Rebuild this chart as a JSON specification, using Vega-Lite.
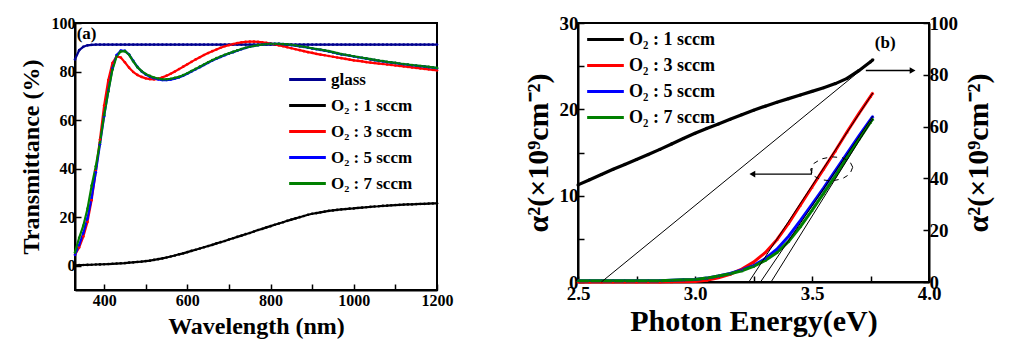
{
 "$schema": "https://vega.github.io/schema/vega-lite/v6.json",
 "background": "white",
 "padding": {"left": 18, "top": 13, "right": 5, "bottom": 5},
 "spacing": 68,
 "config": {
  "font": "Liberation Serif",
  "view": {"stroke": "black", "strokeWidth": 2},
  "axis": {"labelFont": "Liberation Serif", "labelFontWeight": "bold", "titleFont": "Liberation Serif", "titleFontWeight": "bold", "labelColor": "black", "titleColor": "black", "domainColor": "black", "domainWidth": 2, "tickColor": "black", "tickWidth": 1.5, "grid": false, "tickSize": -6, "labelPadding": 6, "labelOverlap": false, "labelFlush": false},
  "axisX": {"labelPadding": 8},
  "legend": {"title": null, "labelFont": "Liberation Serif", "labelFontWeight": "bold", "labelFontSize": 17, "labelColor": "black", "symbolType": "M-1.55,0H1.55", "symbolSize": 560, "symbolStrokeWidth": 3, "labelOffset": 10, "rowPadding": 4, "padding": 0}
 },
 "datasets": {
  "ta": [
   {"w":330,"glass":85.0,"o1":0.2,"o3":4.5,"o5":4.5,"o7":5.5},
   {"w":340,"glass":88.8,"o1":0.25,"o3":7.5,"o5":8.5,"o7":11.5},
   {"w":350,"glass":90.2,"o1":0.3,"o3":12,"o5":13.5,"o7":16.5},
   {"w":360,"glass":90.8,"o1":0.35,"o3":18,"o5":19.5,"o7":23.5},
   {"w":370,"glass":91.0,"o1":0.4,"o3":27,"o5":28,"o7":33},
   {"w":380,"glass":91.1,"o1":0.5,"o3":39,"o5":38.5,"o7":41},
   {"w":390,"glass":91.1,"o1":0.55,"o3":52,"o5":50,"o7":50.7},
   {"w":400,"glass":91.1,"o1":0.6,"o3":66,"o5":61.5,"o7":62},
   {"w":410,"glass":91.1,"o1":0.7,"o3":76.5,"o5":72,"o7":71.8},
   {"w":420,"glass":91.1,"o1":0.8,"o3":83.5,"o5":81.2,"o7":80.8},
   {"w":430,"glass":91.1,"o1":0.9,"o3":86.2,"o5":86.8,"o7":86.2},
   {"w":440,"glass":91.1,"o1":1.0,"o3":85.8,"o5":88.6,"o7":88.3},
   {"w":450,"glass":91.1,"o1":1.1,"o3":83.8,"o5":88.5,"o7":88.4},
   {"w":460,"glass":91.1,"o1":1.25,"o3":81.6,"o5":87.0,"o7":86.9},
   {"w":470,"glass":91.1,"o1":1.4,"o3":79.8,"o5":84.4,"o7":84.2},
   {"w":480,"glass":91.1,"o1":1.55,"o3":78.6,"o5":81.9,"o7":81.8},
   {"w":490,"glass":91.1,"o1":1.7,"o3":77.8,"o5":80.1,"o7":80.2},
   {"w":500,"glass":91.1,"o1":1.9,"o3":77.2,"o5":78.8,"o7":79.0},
   {"w":510,"glass":91.1,"o1":2.1,"o3":76.9,"o5":77.9,"o7":78.2},
   {"w":520,"glass":91.1,"o1":2.4,"o3":76.8,"o5":77.2,"o7":77.5},
   {"w":530,"glass":91.1,"o1":2.7,"o3":77.0,"o5":76.8,"o7":77.1},
   {"w":540,"glass":91.1,"o1":3.0,"o3":77.6,"o5":76.5,"o7":76.8},
   {"w":550,"glass":91.1,"o1":3.4,"o3":78.3,"o5":76.5,"o7":76.8},
   {"w":560,"glass":91.1,"o1":3.8,"o3":79.1,"o5":76.7,"o7":77.0},
   {"w":570,"glass":91.1,"o1":4.2,"o3":80.0,"o5":77.1,"o7":77.4},
   {"w":580,"glass":91.1,"o1":4.7,"o3":81.0,"o5":77.6,"o7":77.8},
   {"w":590,"glass":91.1,"o1":5.1,"o3":82.0,"o5":78.3,"o7":78.5},
   {"w":600,"glass":91.1,"o1":5.6,"o3":83.0,"o5":79.1,"o7":79.3},
   {"w":610,"glass":91.1,"o1":6.1,"o3":84.0,"o5":80.0,"o7":80.2},
   {"w":620,"glass":91.1,"o1":6.6,"o3":85.0,"o5":80.9,"o7":81.1},
   {"w":630,"glass":91.1,"o1":7.1,"o3":85.9,"o5":81.8,"o7":82.0},
   {"w":640,"glass":91.1,"o1":7.6,"o3":86.8,"o5":82.7,"o7":82.9},
   {"w":650,"glass":91.1,"o1":8.1,"o3":87.6,"o5":83.6,"o7":83.8},
   {"w":660,"glass":91.1,"o1":8.6,"o3":88.4,"o5":84.5,"o7":84.7},
   {"w":670,"glass":91.1,"o1":9.2,"o3":89.1,"o5":85.3,"o7":85.5},
   {"w":680,"glass":91.1,"o1":9.7,"o3":89.8,"o5":86.0,"o7":86.2},
   {"w":690,"glass":91.1,"o1":10.2,"o3":90.4,"o5":86.7,"o7":86.9},
   {"w":700,"glass":91.1,"o1":10.8,"o3":90.9,"o5":87.4,"o7":87.5},
   {"w":710,"glass":91.1,"o1":11.3,"o3":91.3,"o5":88.0,"o7":88.1},
   {"w":720,"glass":91.1,"o1":11.9,"o3":91.7,"o5":88.6,"o7":88.7},
   {"w":730,"glass":91.1,"o1":12.4,"o3":92.0,"o5":89.2,"o7":89.3},
   {"w":740,"glass":91.1,"o1":13.0,"o3":92.2,"o5":89.7,"o7":89.8},
   {"w":750,"glass":91.1,"o1":13.5,"o3":92.3,"o5":90.2,"o7":90.2},
   {"w":760,"glass":91.1,"o1":14.1,"o3":92.3,"o5":90.6,"o7":90.6},
   {"w":770,"glass":91.1,"o1":14.7,"o3":92.2,"o5":90.9,"o7":90.9},
   {"w":780,"glass":91.1,"o1":15.2,"o3":92.0,"o5":91.1,"o7":91.1},
   {"w":790,"glass":91.1,"o1":15.8,"o3":91.8,"o5":91.3,"o7":91.3},
   {"w":800,"glass":91.1,"o1":16.3,"o3":91.5,"o5":91.4,"o7":91.4},
   {"w":810,"glass":91.1,"o1":16.9,"o3":91.2,"o5":91.4,"o7":91.4},
   {"w":820,"glass":91.1,"o1":17.4,"o3":90.8,"o5":91.4,"o7":91.4},
   {"w":830,"glass":91.1,"o1":17.9,"o3":90.4,"o5":91.3,"o7":91.3},
   {"w":840,"glass":91.1,"o1":18.5,"o3":90.0,"o5":91.1,"o7":91.2},
   {"w":850,"glass":91.1,"o1":19.0,"o3":89.6,"o5":90.9,"o7":91.0},
   {"w":860,"glass":91.1,"o1":19.5,"o3":89.2,"o5":90.7,"o7":90.8},
   {"w":870,"glass":91.1,"o1":20.0,"o3":88.8,"o5":90.4,"o7":90.5},
   {"w":880,"glass":91.1,"o1":20.5,"o3":88.4,"o5":90.1,"o7":90.2},
   {"w":890,"glass":91.1,"o1":21.0,"o3":88.0,"o5":89.8,"o7":89.9},
   {"w":900,"glass":91.1,"o1":21.4,"o3":87.7,"o5":89.5,"o7":89.6},
   {"w":910,"glass":91.1,"o1":21.7,"o3":87.3,"o5":89.2,"o7":89.3},
   {"w":920,"glass":91.1,"o1":22.0,"o3":87.0,"o5":88.9,"o7":89.0},
   {"w":930,"glass":91.1,"o1":22.3,"o3":86.7,"o5":88.6,"o7":88.7},
   {"w":940,"glass":91.1,"o1":22.6,"o3":86.4,"o5":88.3,"o7":88.4},
   {"w":950,"glass":91.1,"o1":22.8,"o3":86.1,"o5":87.9,"o7":88.0},
   {"w":960,"glass":91.1,"o1":23.0,"o3":85.8,"o5":87.5,"o7":87.6},
   {"w":970,"glass":91.1,"o1":23.2,"o3":85.5,"o5":87.1,"o7":87.2},
   {"w":980,"glass":91.1,"o1":23.35,"o3":85.2,"o5":86.8,"o7":86.9},
   {"w":990,"glass":91.1,"o1":23.5,"o3":84.9,"o5":86.5,"o7":86.6},
   {"w":1000,"glass":91.1,"o1":23.6,"o3":84.6,"o5":86.2,"o7":86.3},
   {"w":1010,"glass":91.1,"o1":23.8,"o3":84.4,"o5":85.9,"o7":86.0},
   {"w":1020,"glass":91.1,"o1":23.95,"o3":84.2,"o5":85.6,"o7":85.7},
   {"w":1030,"glass":91.1,"o1":24.1,"o3":83.9,"o5":85.3,"o7":85.4},
   {"w":1040,"glass":91.1,"o1":24.25,"o3":83.7,"o5":85.0,"o7":85.1},
   {"w":1050,"glass":91.1,"o1":24.4,"o3":83.5,"o5":84.7,"o7":84.8},
   {"w":1060,"glass":91.1,"o1":24.5,"o3":83.3,"o5":84.4,"o7":84.5},
   {"w":1070,"glass":91.1,"o1":24.65,"o3":83.1,"o5":84.2,"o7":84.3},
   {"w":1080,"glass":91.1,"o1":24.75,"o3":82.9,"o5":83.9,"o7":84.0},
   {"w":1090,"glass":91.1,"o1":24.9,"o3":82.7,"o5":83.7,"o7":83.8},
   {"w":1100,"glass":91.1,"o1":25.0,"o3":82.5,"o5":83.5,"o7":83.6},
   {"w":1110,"glass":91.1,"o1":25.1,"o3":82.3,"o5":83.2,"o7":83.3},
   {"w":1120,"glass":91.1,"o1":25.2,"o3":82.1,"o5":83.0,"o7":83.1},
   {"w":1130,"glass":91.1,"o1":25.25,"o3":81.9,"o5":82.8,"o7":82.9},
   {"w":1140,"glass":91.1,"o1":25.3,"o3":81.7,"o5":82.6,"o7":82.7},
   {"w":1150,"glass":91.1,"o1":25.4,"o3":81.5,"o5":82.4,"o7":82.5},
   {"w":1160,"glass":91.1,"o1":25.45,"o3":81.3,"o5":82.2,"o7":82.3},
   {"w":1170,"glass":91.1,"o1":25.5,"o3":81.1,"o5":82.0,"o7":82.1},
   {"w":1180,"glass":91.1,"o1":25.6,"o3":80.9,"o5":81.8,"o7":81.9},
   {"w":1190,"glass":91.1,"o1":25.65,"o3":80.7,"o5":81.6,"o7":81.7},
   {"w":1200,"glass":91.1,"o1":25.7,"o3":80.5,"o5":81.4,"o7":81.5}
  ],
  "tb": [
   {"e":2.50,"o1":37.5,"o3":0.0,"o5":0.15,"o7":0.15},
   {"e":2.55,"o1":39.5,"o3":0.0,"o5":0.15,"o7":0.15},
   {"e":2.60,"o1":41.5,"o3":0.0,"o5":0.15,"o7":0.15},
   {"e":2.65,"o1":43.5,"o3":0.0,"o5":0.15,"o7":0.15},
   {"e":2.70,"o1":45.4,"o3":0.0,"o5":0.15,"o7":0.15},
   {"e":2.75,"o1":47.3,"o3":0.0,"o5":0.15,"o7":0.15},
   {"e":2.80,"o1":49.2,"o3":0.0,"o5":0.15,"o7":0.15},
   {"e":2.85,"o1":51.2,"o3":0.0,"o5":0.15,"o7":0.15},
   {"e":2.90,"o1":53.3,"o3":0.02,"o5":0.2,"o7":0.2},
   {"e":2.95,"o1":55.4,"o3":0.03,"o5":0.25,"o7":0.25},
   {"e":3.00,"o1":57.4,"o3":0.05,"o5":0.3,"o7":0.3},
   {"e":3.05,"o1":59.3,"o3":0.2,"o5":0.45,"o7":0.45},
   {"e":3.10,"o1":61.0,"o3":0.5,"o5":0.7,"o7":0.7},
   {"e":3.15,"o1":62.8,"o3":0.9,"o5":1.0,"o7":0.95},
   {"e":3.20,"o1":64.6,"o3":1.5,"o5":1.4,"o7":1.3},
   {"e":3.25,"o1":66.3,"o3":2.3,"o5":1.9,"o7":1.8},
   {"e":3.30,"o1":67.9,"o3":3.4,"o5":2.7,"o7":2.5},
   {"e":3.35,"o1":69.4,"o3":4.9,"o5":3.8,"o7":3.4},
   {"e":3.40,"o1":70.8,"o3":6.8,"o5":5.3,"o7":4.7},
   {"e":3.45,"o1":72.2,"o3":8.9,"o5":7.1,"o7":6.4},
   {"e":3.50,"o1":73.6,"o3":11.0,"o5":9.0,"o7":8.3},
   {"e":3.55,"o1":75.0,"o3":13.1,"o5":10.9,"o7":10.3},
   {"e":3.60,"o1":76.6,"o3":15.2,"o5":12.9,"o7":12.3},
   {"e":3.65,"o1":78.6,"o3":17.4,"o5":14.9,"o7":14.4},
   {"e":3.70,"o1":81.6,"o3":19.5,"o5":16.9,"o7":16.5},
   {"e":3.75,"o1":85.0,"o3":21.5,"o5":18.8,"o7":18.5},
   {"e":3.76,"o1":85.8,"o3":21.9,"o5":19.2,"o7":18.9}
  ],
  "tangents": [
   {"id":"k","e":2.6,"v":0},{"id":"k","e":3.725,"v":24.9},
   {"id":"r","e":3.23,"v":0},{"id":"r","e":3.76,"v":21.9},
   {"id":"b","e":3.28,"v":0},{"id":"b","e":3.76,"v":19.2},
   {"id":"g","e":3.325,"v":0},{"id":"g","e":3.76,"v":18.9}
  ],
  "arrows": [
   {"id":"right","i":1,"e":3.73,"v":24.5},{"id":"right","i":2,"e":3.93,"v":24.5},
   {"id":"left","i":1,"e":3.25,"v":12.5},{"id":"left","i":2,"e":3.497,"v":12.5},{"id":"left","i":3,"e":3.5,"v":13.2}
  ],
  "heads": [
   {"e":3.93,"v":24.5,"dir":"triangle-right"},
   {"e":3.245,"v":12.5,"dir":"triangle-left"}
  ],
  "ellipse": [
   {"i":1,"e":3.674,"v":13.3},{"i":2,"e":3.662,"v":13.95},{"i":3,"e":3.629,"v":14.4},{"i":4,"e":3.584,"v":14.5},
   {"i":5,"e":3.539,"v":14.25},{"i":6,"e":3.506,"v":13.7},{"i":7,"e":3.494,"v":13.0},{"i":8,"e":3.506,"v":12.3},
   {"i":9,"e":3.539,"v":11.85},{"i":10,"e":3.584,"v":11.7},{"i":11,"e":3.629,"v":11.95},{"i":12,"e":3.662,"v":12.5},
   {"i":13,"e":3.674,"v":13.3}
  ]
 },
 "hconcat": [
  {
   "width": 362,
   "height": 267,
   "layer": [
    {
     "data": {"name": "ta"},
     "transform": [{"fold": ["glass", "o1", "o3", "o5", "o7"], "as": ["series", "t"]}],
     "mark": {"type": "line", "strokeWidth": 2.2},
     "encoding": {
      "x": {"field": "w", "type": "quantitative", "scale": {"domain": [330, 1200], "nice": false, "zero": false},
            "axis": {"title": "Wavelength (nm)", "values": [400, 500, 600, 700, 800, 900, 1000, 1100, 1200], "labelExpr": "datum.value % 200 == 0 ? datum.label : ''", "labelFontSize": 16, "titleFontSize": 24, "titlePadding": 6, "format": "d"}},
      "y": {"field": "t", "type": "quantitative", "scale": {"domain": [-10, 100], "nice": false, "zero": false},
            "axis": {"title": "Transmittance (%)", "values": [0, 10, 20, 30, 40, 50, 60, 70, 80, 90, 100], "labelExpr": "datum.value % 20 == 0 ? datum.label : ''", "labelFontSize": 16, "titleFontSize": 24, "titlePadding": 8}},
      "color": {"field": "series", "type": "nominal",
                "scale": {"domain": ["glass", "o1", "o3", "o5", "o7"], "range": ["#000090", "#000000", "#ff0000", "#0000ff", "#008000"]},
                "legend": {"orient": "none", "legendX": 219, "legendY": 43, "labelExpr": "{'glass':'glass','o1':'O₂ : 1 sccm','o3':'O₂ : 3 sccm','o5':'O₂ : 5 sccm','o7':'O₂ : 7 sccm'}[datum.label]"}}
     }
    },
    {
     "data": {"name": "ta"},
     "transform": [{"fold": ["glass", "o1", "o3", "o5", "o7"], "as": ["series", "t"]}],
     "mark": {"type": "point", "filled": true, "size": 7, "opacity": 1, "shape": "circle"},
     "encoding": {
      "x": {"field": "w", "type": "quantitative"},
      "y": {"field": "t", "type": "quantitative"},
      "color": {"field": "series", "type": "nominal", "legend": null}
     }
    },
    {
     "data": {"values": [{"w": 334, "t": 95.5, "txt": "(a)"}]},
     "mark": {"type": "text", "align": "left", "baseline": "middle", "font": "Liberation Serif", "fontWeight": "bold", "fontSize": 17, "color": "black"},
     "encoding": {"x": {"field": "w", "type": "quantitative"}, "y": {"field": "t", "type": "quantitative"}, "text": {"field": "txt"}}
    }
   ]
  },
  {
   "width": 351,
   "height": 259,
   "layer": [
    {
     "layer": [
      {
       "data": {"name": "tb"},
       "transform": [{"fold": ["o3", "o5", "o7"], "as": ["series", "v"]}],
       "mark": {"type": "line", "strokeWidth": 3},
       "encoding": {
        "x": {"field": "e", "type": "quantitative", "scale": {"domain": [2.5, 4.0], "nice": false, "zero": false},
              "axis": {"title": "Photon Energy(eV)", "values": [2.5, 2.75, 3.0, 3.25, 3.5, 3.75, 4.0], "labelExpr": "(datum.value * 2) % 1 == 0 ? format(datum.value, '.1f') : ''", "labelFontSize": 19, "titleFontSize": 30, "titlePadding": 3}},
        "y": {"field": "v", "type": "quantitative", "scale": {"domain": [0, 30], "nice": false, "zero": false},
              "axis": {"orient": "left", "title": "α²(×10⁹cm⁻²)", "values": [0, 5, 10, 15, 20, 25, 30], "labelExpr": "datum.value % 10 == 0 ? datum.label : ''", "labelFontSize": 19, "titleFontSize": 30, "titlePadding": 6}},
        "color": {"field": "series", "type": "nominal",
                  "scale": {"domain": ["o1", "o3", "o5", "o7"], "range": ["#000000", "#ff0000", "#0000ff", "#008000"]},
                  "legend": {"orient": "none", "legendX": 14, "legendY": 3, "labelFontSize": 18, "rowPadding": 3, "labelExpr": "{'o1':'O₂ : 1 sccm','o3':'O₂ : 3 sccm','o5':'O₂ : 5 sccm','o7':'O₂ : 7 sccm'}[datum.label]"}}
       }
      },
      {
       "data": {"name": "tb"},
       "transform": [{"fold": ["o3", "o5", "o7"], "as": ["series", "v"]}],
       "mark": {"type": "point", "filled": true, "size": 10, "opacity": 1, "shape": "triangle-up"},
       "encoding": {
        "x": {"field": "e", "type": "quantitative"},
        "y": {"field": "v", "type": "quantitative"},
        "color": {"field": "series", "type": "nominal", "legend": null}
       }
      },
      {
       "data": {"name": "tangents"},
       "mark": {"type": "line", "color": "black", "strokeWidth": 1},
       "encoding": {"x": {"field": "e", "type": "quantitative"}, "y": {"field": "v", "type": "quantitative"}, "detail": {"field": "id"}}
      },
      {
       "data": {"name": "arrows"},
       "mark": {"type": "line", "color": "black", "strokeWidth": 1.3},
       "encoding": {"x": {"field": "e", "type": "quantitative"}, "y": {"field": "v", "type": "quantitative"}, "detail": {"field": "id"}, "order": {"field": "i"}}
      },
      {
       "data": {"name": "heads"},
       "mark": {"type": "point", "filled": true, "color": "black", "size": 45, "opacity": 1},
       "encoding": {"x": {"field": "e", "type": "quantitative"}, "y": {"field": "v", "type": "quantitative"}, "shape": {"field": "dir", "type": "nominal", "scale": null, "legend": null}}
      },
      {
       "data": {"name": "ellipse"},
       "mark": {"type": "line", "color": "black", "strokeWidth": 1, "strokeDash": [5, 5]},
       "encoding": {"x": {"field": "e", "type": "quantitative"}, "y": {"field": "v", "type": "quantitative"}, "order": {"field": "i"}}
      },
      {
       "data": {"values": [{"e": 3.813, "v": 27.7, "txt": "(b)"}]},
       "mark": {"type": "text", "align": "center", "baseline": "middle", "font": "Liberation Serif", "fontWeight": "bold", "fontSize": 17, "color": "black"},
       "encoding": {"x": {"field": "e", "type": "quantitative"}, "y": {"field": "v", "type": "quantitative"}, "text": {"field": "txt"}}
      }
     ]
    },
    {
     "layer": [
      {
       "data": {"name": "tb"},
       "transform": [{"fold": ["o1"], "as": ["series", "v"]}],
       "mark": {"type": "line", "strokeWidth": 3.2},
       "encoding": {
        "x": {"field": "e", "type": "quantitative"},
        "y": {"field": "v", "type": "quantitative", "scale": {"domain": [0, 100], "nice": false, "zero": false},
              "axis": {"orient": "right", "title": "α²(×10⁹cm⁻²)", "titleAngle": 270, "titleBaseline": "top", "values": [0, 10, 20, 30, 40, 50, 60, 70, 80, 90, 100], "labelExpr": "datum.value % 20 == 0 ? datum.label : ''", "labelFontSize": 19, "titleFontSize": 30, "titlePadding": 6}},
        "color": {"field": "series", "type": "nominal"}
       }
      },
      {
       "data": {"name": "tb"},
       "transform": [{"fold": ["o1"], "as": ["series", "v"]}],
       "mark": {"type": "point", "filled": true, "size": 10, "opacity": 1, "shape": "circle"},
       "encoding": {
        "x": {"field": "e", "type": "quantitative"},
        "y": {"field": "v", "type": "quantitative"},
        "color": {"field": "series", "type": "nominal", "legend": null}
       }
      }
     ]
    }
   ],
   "resolve": {"scale": {"y": "independent"}}
  }
 ],
 "resolve": {"scale": {"color": "independent"}, "legend": {"color": "independent"}}
}
